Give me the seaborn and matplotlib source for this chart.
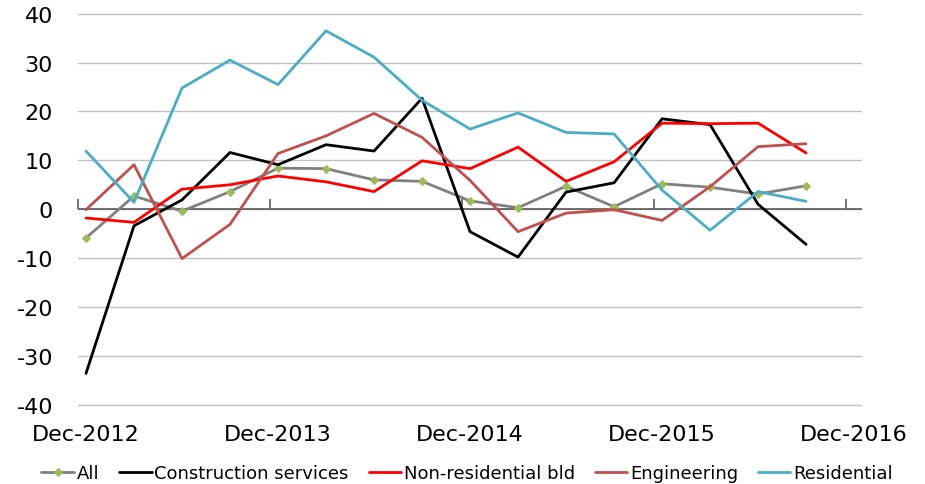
import numpy as np
import pandas as pd
import matplotlib
matplotlib.use("Agg")
import matplotlib.pyplot as plt
import seaborn as sns

# quarterly, Dec-2012 .. Sep-2016
quarters = list(range(16))
tick_labels = ["Dec-2012", "Dec-2013", "Dec-2014", "Dec-2015", "Dec-2016"]

all_vals = [-5.9, 2.7, -0.4, 3.6, 8.4, 8.3, 6.0, 5.7, 1.7, 0.3, 4.7, 0.5, 5.2, 4.5, 3.1, 4.8]
construction = [-33.6, -3.4, 1.9, 11.6, 9.1, 13.2, 11.9, 22.7, -4.6, -9.8, 3.5, 5.4, 18.5, 17.3, 1.0, -7.2]
non_residential = [-1.8, -2.7, 4.1, 5.0, 6.8, 5.6, 3.6, 9.9, 8.3, 12.7, 5.7, 9.7, 17.6, 17.5, 17.6, 11.5]
engineering = [-0.1, 9.1, -10.1, -3.1, 11.4, 15.0, 19.6, 14.7, 5.9, -4.6, -0.8, -0.1, -2.3, 4.6, 12.8, 13.4]
residential = [11.9, 1.4, 24.8, 30.5, 25.5, 36.5, 31.1, 22.3, 16.4, 19.7, 15.7, 15.4, 3.9, -4.3, 3.6, 1.6]

series_names = ["All", "Construction services", "Non-residential bld", "Engineering", "Residential"]
series_vals = [all_vals, construction, non_residential, engineering, residential]
colors = ["#808080", "#000000", "#FF0000", "#C0504D", "#4BACC6"]

df = pd.DataFrame({"quarter": quarters})
for name, vals in zip(series_names, series_vals):
    df[name] = vals
long_df = df.melt(id_vars="quarter", var_name="series", value_name="value")

sns.set_style("white")
plt.rcParams["font.family"] = ["DejaVu Sans"]
plt.rcParams["axes.unicode_minus"] = False
plt.rcParams["text.color"] = "black"

fig = plt.figure(figsize=(9.25, 4.85), dpi=100)
ax = fig.add_axes([0.0843, 0.1585, 0.932 - 0.0843, 0.9747 - 0.1585])

for name, col in zip(series_names, colors):
    sub = long_df[long_df["series"] == name]
    if name == "All":
        sns.lineplot(data=sub, x="quarter", y="value", ax=ax, color=col, lw=2,
                     marker="D", markersize=4.5, markerfacecolor="#9BBB59",
                     markeredgecolor="#9BBB59", label=name, zorder=3)
    else:
        sns.lineplot(data=sub, x="quarter", y="value", ax=ax, color=col, lw=2,
                     label=name, zorder=3)

off = 1 / 6
ax.set_xlim(-off, 16 + off)
ax.set_ylim(-40.5, 40.5)
ax.set_yticks(range(-40, 41, 10))
ax.yaxis.grid(True, color="#C0C0C0", lw=1)
ax.set_axisbelow(True)
ax.axhline(0, color="#595959", lw=1.2, zorder=2)

# category labels on the bottom, no tick marks
ax.set_xticks([0, 4, 8, 12, 16])
ax.set_xticklabels(tick_labels)
ax.tick_params(axis="x", length=0, pad=12, labelsize=16, labelcolor="black")
ax.tick_params(axis="y", length=0, pad=18, labelsize=16, labelcolor="black")
for sp in ax.spines.values():
    sp.set_visible(False)
ax.set_xlabel("")
ax.set_ylabel("")

# the axis line at zero with small upward tick marks
sec = ax.secondary_xaxis(0.5)
sec.set_xticks([-off + 4 * k for k in range(5)])
sec.tick_params(axis="x", direction="out", length=7, width=1.2, color="#595959",
                labelbottom=False, labeltop=False)
for sp in sec.spines.values():
    sp.set_visible(False)

handles, labels = ax.get_legend_handles_labels()
ax.get_legend().remove()
fig.legend(handles, labels, loc="center", bbox_to_anchor=(0.505, 1 - 474 / 485),
           ncol=5, frameon=False, fontsize=13, handlelength=1.8, handletextpad=0.15,
           columnspacing=1.1, labelcolor="black")

fig.savefig("out.png", dpi=100)
